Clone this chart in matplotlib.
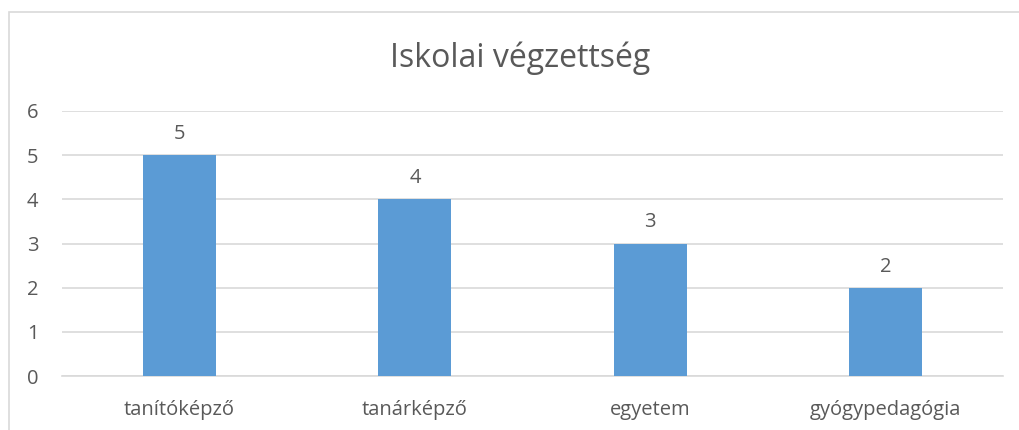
import matplotlib
matplotlib.use("Agg")
import matplotlib.pyplot as plt
from matplotlib.patches import Rectangle

categories = ["tanítóképző", "tanárképző", "egyetem", "gyógypedagógia"]
values = [5, 4, 3, 2]
yticks = [0, 1, 2, 3, 4, 5, 6]
title = "Iskolai végzettség"

W, H = 1019, 430
fig = plt.figure(figsize=(W / 100, H / 100), dpi=100)
plt.rcParams['font.family'] = ['Open Sans', 'DejaVu Sans']
txt = "#595959"

# axes: left 62, right 1003, y0 at 376, y6 at 111
ax = fig.add_axes([62 / W, 1 - 376 / H, (1003 - 62) / W, (376 - 111) / H])
x = list(range(len(categories)))
ax.bar(x, values, width=0.31, color="#5B9BD5", zorder=3)
ax.set_xlim(-0.5, len(categories) - 0.5)
ax.set_ylim(0, 6)
ax.set_yticks(yticks)
ax.set_yticklabels([str(t) for t in yticks], fontsize=14.5, color=txt)
ax.set_xticks(x)
ax.set_xticklabels(categories, fontsize=14.5, color=txt)
ax.tick_params(length=0)
ax.tick_params(axis='y', pad=17)
ax.tick_params(axis='x', pad=17)
ax.grid(axis='y', color="#D9D9D9", linewidth=1.2, zorder=0)
for s in ["top", "right", "left"]:
    ax.spines[s].set_visible(False)
ax.spines["bottom"].set_color("#D9D9D9")
ax.spines["bottom"].set_linewidth(1.2)
for xi, v in zip(x, values):
    ax.annotate(str(v), (xi, v), xytext=(0, 8), textcoords="offset points",
                ha="center", va="bottom", fontsize=14.5, color=txt)

fig.text(520 / W, 1 - 58 / H, title, ha="center", va="center", fontsize=23, color=txt)

fig.add_artist(Rectangle((9 / W, -0.1), 1.2, 1 - 12 / H + 0.1, transform=fig.transFigure,
                         fill=False, edgecolor="#D9D9D9", linewidth=1.2))

fig.savefig("out.png", dpi=100)
